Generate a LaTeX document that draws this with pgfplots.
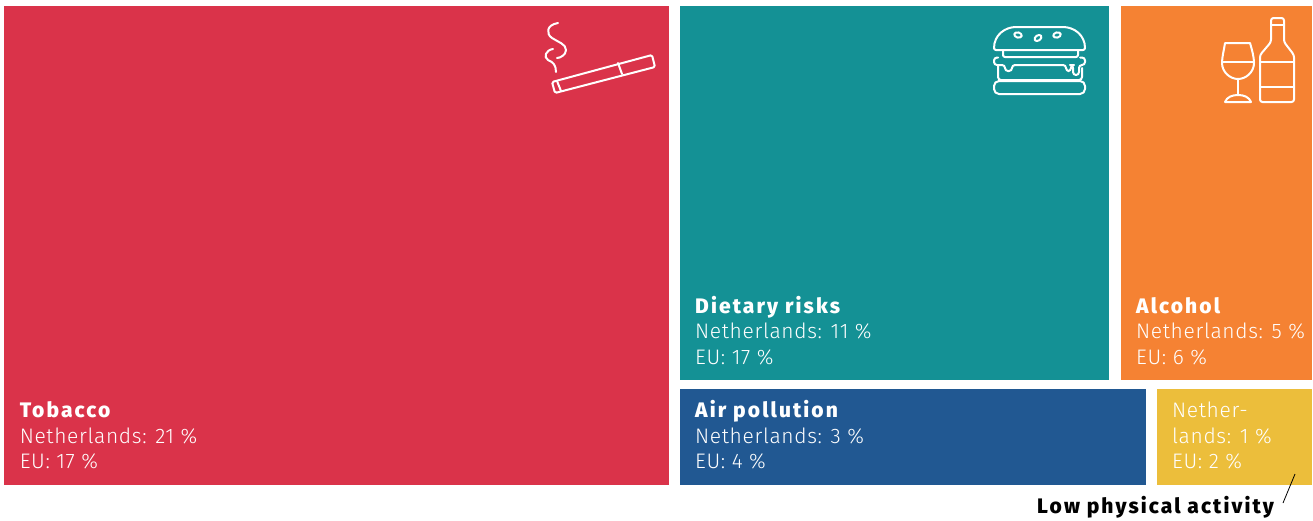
\documentclass[border=0pt]{standalone}
\usepackage{pgfplots}
\pgfplotsset{compat=1.18}
\usepackage{fontspec}
\setmainfont{Fira Sans Light}[BoldFont={Fira Sans ExtraBold},BoldFeatures={LetterSpace=10},LetterSpace=3.1]
\definecolor{cRed}{HTML}{DA334A}
\definecolor{cTeal}{HTML}{149195}
\definecolor{cOrange}{HTML}{F58233}
\definecolor{cBlue}{HTML}{215892}
\definecolor{cYellow}{HTML}{ECBE3B}
\newcommand{\lab}[4]{\node[anchor=base west,inner sep=0pt,text=#4] at (axis cs:#1,#2) {\fontsize{21}{25}\selectfont #3};}
\begin{document}
\begin{tikzpicture}
\begin{axis}[
  scale only axis, width=1313pt, height=520pt,
  xmin=0, xmax=1313, ymin=0, ymax=520, y dir=reverse,
  hide axis, clip=false]
\addplot[draw=none,fill=white] coordinates {(0,0) (1313,0) (1313,520) (0,520)} --cycle;
\addplot[draw=none,fill=cRed] coordinates {(4,6) (669.2,6) (669.2,484.5) (4,484.5)} --cycle;
\addplot[draw=none,fill=cTeal] coordinates {(680,6) (1109.2,6) (1109.2,380) (680,380)} --cycle;
\addplot[draw=none,fill=cOrange] coordinates {(1121,6) (1312,6) (1312,380) (1121,380)} --cycle;
\addplot[draw=none,fill=cBlue] coordinates {(680,389) (1146,389) (1146,484.5) (680,484.5)} --cycle;
\addplot[draw=none,fill=cYellow] coordinates {(1157,389) (1312,389) (1312,484.5) (1157,484.5)} --cycle;

\lab{19.6}{417}{\textbf{Tobacco}}{white}
\lab{19.6}{443}{Netherlands: 21 \%}{white}
\lab{19.6}{468}{EU: 17 \%}{white}
\lab{695}{313}{\textbf{Dietary risks}}{white}
\lab{695}{338}{Netherlands: 11 \%}{white}
\lab{695}{364}{EU: 17 \%}{white}
\lab{1136}{313}{\textbf{Alcohol}}{white}
\lab{1136}{338}{Netherlands: 5 \%}{white}
\lab{1136}{364}{EU: 6 \%}{white}
\lab{695}{417}{\textbf{Air pollution}}{white}
\lab{695}{443}{Netherlands: 3 \%}{white}
\lab{695}{468}{EU: 4 \%}{white}
\lab{1172}{417}{Nether-}{white}
\lab{1172}{443}{lands: 1 \%}{white}
\lab{1172}{468}{EU: 2 \%}{white}
\lab{1037}{513}{\textbf{Low physical activity}}{black}
\draw[black,line width=0.8pt] (axis cs:1295,474) -- (axis cs:1283,503);

% icons
\begin{scope}[white,line width=2pt,line cap=round,line join=round]
% cigarette
\draw[rounded corners=1.5pt] (axis cs:552,82) -- (axis cs:652,55) -- (axis cs:655,67) -- (axis cs:555,93) -- cycle;
\draw (axis cs:618,63) -- (axis cs:622,74);
\draw (axis cs:557,81) -- (axis cs:561,91);
\draw (axis cs:558,23) .. controls (axis cs:546,25) and (axis cs:546,34) .. (axis cs:552,38)
      .. controls (axis cs:558,42) and (axis cs:566,44) .. (axis cs:566,50)
      .. controls (axis cs:566,55) and (axis cs:560,58) .. (axis cs:557,58);
\draw (axis cs:553,49) .. controls (axis cs:546,50) and (axis cs:543,57) .. (axis cs:548,60)
      .. controls (axis cs:553,62) and (axis cs:556,65) .. (axis cs:556,72);
% burger
\draw[rounded corners=2pt] (axis cs:994,50) .. controls (axis cs:994,35) and (axis cs:1005,27) .. (axis cs:1018,27)
      -- (axis cs:1061,27) .. controls (axis cs:1074,27) and (axis cs:1085,35) .. (axis cs:1085,50) -- cycle;
\draw[rotate around={-15:(axis cs:1018,35)}] (axis cs:1018,35) ellipse [x radius=3.8pt,y radius=2.6pt];
\draw[rotate around={35:(axis cs:1038,38)}] (axis cs:1038,38) ellipse [x radius=3.8pt,y radius=2.6pt];
\draw[rotate around={15:(axis cs:1057,35)}] (axis cs:1057,35) ellipse [x radius=3.8pt,y radius=2.6pt];
\draw[rounded corners=2pt] (axis cs:1003,50) -- (axis cs:1003,57) -- (axis cs:1078,57) -- (axis cs:1078,50);
\draw[rounded corners=3pt] (axis cs:998,57.5) -- (axis cs:994,57.5) -- (axis cs:994,65) -- (axis cs:1005,65) -- (axis cs:1005,71) -- (axis cs:1012,71) -- (axis cs:1012,65) -- (axis cs:1066,65) -- (axis cs:1066,71) -- (axis cs:1071,71) -- (axis cs:1071,65) -- (axis cs:1073,65) -- (axis cs:1073,75) -- (axis cs:1079,75) -- (axis cs:1079,65) -- (axis cs:1085,65) -- (axis cs:1085,57.5) -- (axis cs:1080,57.5);
\draw[rounded corners=3pt] (axis cs:998,65) -- (axis cs:998,80) -- (axis cs:1082,80) -- (axis cs:1082,68);
\draw[rounded corners=5pt] (axis cs:994,81) -- (axis cs:1085,81) -- (axis cs:1085,94) -- (axis cs:994,94) -- cycle;
% wine glass
\draw (axis cs:1225,43) -- (axis cs:1250,43) .. controls (axis cs:1252,50) and (axis cs:1254,57) .. (axis cs:1254,63)
      .. controls (axis cs:1254,72) and (axis cs:1246,79) .. (axis cs:1238,79)
      .. controls (axis cs:1230,79) and (axis cs:1222,72) .. (axis cs:1222,63)
      .. controls (axis cs:1222,57) and (axis cs:1224,50) .. (axis cs:1225,43);
\draw (axis cs:1222,62) -- (axis cs:1254,62);
\draw (axis cs:1238,79) -- (axis cs:1238,95);
\draw (axis cs:1225,102) -- (axis cs:1251,102) .. controls (axis cs:1249,97) and (axis cs:1244,95) .. (axis cs:1238,95)
      .. controls (axis cs:1232,95) and (axis cs:1227,97) .. (axis cs:1225,102);
% bottle
\draw[rounded corners=2.5pt] (axis cs:1271,42) -- (axis cs:1271,18) -- (axis cs:1284,18) -- (axis cs:1284,42)
      -- (axis cs:1294,55) -- (axis cs:1294,102) -- (axis cs:1260,102) -- (axis cs:1260,55) -- cycle;
\draw (axis cs:1271,25) -- (axis cs:1284,25);
\draw (axis cs:1260,62) -- (axis cs:1294,62);
\draw (axis cs:1260,87) -- (axis cs:1294,87);
\end{scope}
\end{axis}
\end{tikzpicture}
\end{document}
